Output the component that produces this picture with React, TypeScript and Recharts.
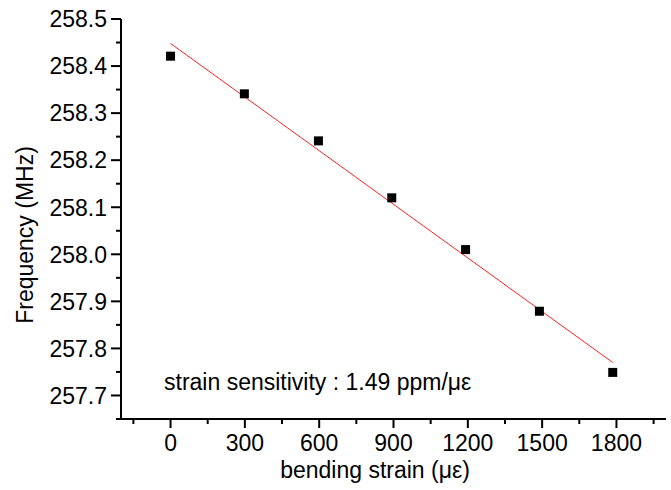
import React from 'react';
import { ScatterChart, Scatter, XAxis, YAxis, Label } from 'recharts';

const strain = [0, 298, 597, 893, 1191, 1489, 1785];
const frequency = [258.421, 258.341, 258.241, 258.12, 258.01, 257.879, 257.749];
const fitStrain = [0, 1785];
const fitFrequency = [258.448, 257.77];
const xMajorTicks = [0, 300, 600, 900, 1200, 1500, 1800];
const xMinorTicks = [-150, 150, 450, 750, 1050, 1350, 1650, 1950];
const yMajorTicks = [257.7, 257.8, 257.9, 258.0, 258.1, 258.2, 258.3, 258.4, 258.5];
const yMinorTicks = [257.65, 257.75, 257.85, 257.95, 258.05, 258.15, 258.25, 258.35, 258.45];

const FONT = '"Liberation Sans", Arial, sans-serif';
const FS = 23;

const points = strain.map((x, i) => ({ x, y: frequency[i] }));
const fit = fitStrain.map((x, i) => ({ x, y: fitFrequency[i] }));
const xTicks = [...xMajorTicks, ...xMinorTicks].sort((a, b) => a - b);
const yTicks = [...yMajorTicks, ...yMinorTicks].sort((a, b) => a - b);

const isIn = (arr: number[], v: number) => arr.some((t) => Math.abs(t - v) < 1e-6);

const XTick = (props: any) => {
  const { x, y, payload } = props;
  const major = isIn(xMajorTicks, payload.value);
  return (
    <g>
      <line x1={x} x2={x} y1={y} y2={y + (major ? 9 : 5)} stroke="#000" strokeWidth={2} />
      {major && (
        <text x={x} y={y + 32} textAnchor="middle" fontFamily={FONT} fontSize={FS} fill="#000">
          {String(payload.value)}
        </text>
      )}
    </g>
  );
};

const YTick = (props: any) => {
  const { x, y, payload } = props;
  const major = isIn(yMajorTicks, payload.value);
  return (
    <g>
      <line x1={x} x2={x - (major ? 10 : 5)} y1={y} y2={y} stroke="#000" strokeWidth={2} />
      {major && (
        <text x={x - 14} y={y} dy="0.36em" textAnchor="end" fontFamily={FONT} fontSize={FS} fill="#000">
          {Number(payload.value).toFixed(1)}
        </text>
      )}
    </g>
  );
};

const Square = (props: any) => {
  const { cx, cy } = props;
  if (cx == null || cy == null) return null;
  return <rect x={cx - 4.5} y={cy - 4.5} width={9} height={9} fill="#000" />;
};

const NoShape = () => null;

export default function App() {
  return (
    <div style={{ position: 'absolute', left: 0, top: 0, background: '#fff' }}>
      <ScatterChart width={671} height={490} margin={{ top: 19, right: 5, bottom: 0, left: 0 }}>
        <XAxis
          type="number"
          dataKey="x"
          domain={[-200, 2000]}
          allowDataOverflow
          ticks={xTicks}
          interval={0}
          tickSize={0}
          tickMargin={0}
          tickLine={false}
          tick={<XTick />}
          height={71}
          axisLine={{ stroke: '#000', strokeWidth: 2 }}
        >
          <Label
            content={() => (
              <g>
                <text x={375} y={478} textAnchor="middle" fontFamily={FONT} fontSize={FS} fill="#000">
                  bending strain (με)
                </text>
                <text x={164} y={390} textAnchor="start" fontFamily={FONT} fontSize={FS} fill="#000">
                  strain sensitivity : 1.49 ppm/με
                </text>
              </g>
            )}
          />
        </XAxis>
        <XAxis
          xAxisId="top"
          orientation="top"
          type="number"
          dataKey="x"
          domain={[-200, 2000]}
          allowDataOverflow
          height={0}
          tick={false}
          tickLine={false}
          axisLine={{ stroke: '#000', strokeWidth: 2 }}
        />
        <YAxis
          type="number"
          dataKey="y"
          domain={[257.65, 258.5]}
          allowDataOverflow
          ticks={yTicks}
          interval={0}
          tickSize={0}
          tickMargin={0}
          tickLine={false}
          tick={<YTick />}
          width={121}
          axisLine={{ stroke: '#000', strokeWidth: 2 }}
        >
          <Label
            content={() => (
              <text
                x={25}
                y={235}
                transform="rotate(-90 25 235)"
                textAnchor="middle"
                dominantBaseline="central"
                fontFamily={FONT}
                fontSize={FS}
                fill="#000"
              >
                Frequency (MHz)
              </text>
            )}
          />
        </YAxis>
        <YAxis
          yAxisId="right"
          orientation="right"
          type="number"
          dataKey="y"
          domain={[257.65, 258.5]}
          allowDataOverflow
          width={0}
          tick={false}
          tickLine={false}
          axisLine={{ stroke: '#000', strokeWidth: 2 }}
        />
        <Scatter
          data={fit}
          line={{ stroke: '#ff2020', strokeWidth: 1 }}
          shape={<NoShape />}
          isAnimationActive={false}
        />
        <Scatter data={points} shape={<Square />} isAnimationActive={false} />
      </ScatterChart>
    </div>
  );
}
